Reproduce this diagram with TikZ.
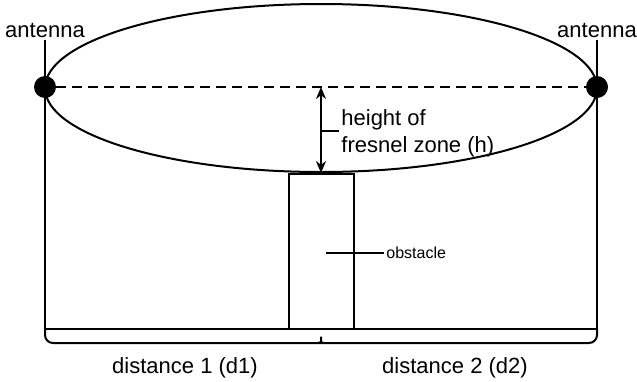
\documentclass[tikz,border=0pt]{standalone}
\usepackage{fontspec}
\setmainfont{Liberation Sans}
\usetikzlibrary{arrows.meta,positioning,shapes.geometric,calc}
\tikzset{
 ln/.style={line width=1pt,draw=black},
 dot/.style={circle,fill=black,minimum size=11pt,inner sep=0pt},
 lbl/.style={font=\fontsize{11}{13.5}\selectfont,inner sep=1pt},
 small/.style={font=\fontsize{8}{9.6}\selectfont,inner sep=1pt},
 arr/.style={{Stealth[length=6pt,width=5pt]}-{Stealth[length=6pt,width=5pt]},line width=1pt},
 dsh/.style={ln,dash pattern=on 5pt off 3pt}
}
\begin{document}
\begin{tikzpicture}[x=0.5pt,y=-0.5pt]
\useasboundingbox (0,0) rectangle (637,381);
% fresnel zone and the two antennas
\node[ellipse,ln,minimum width=276pt,minimum height=84pt,inner sep=0pt] (zone) at (321,88) {};
\node[dot] (ant1) at (45,87) {};
\node[dot] (ant2) at (597,87) {};
\node[lbl,anchor=base] (lab1) at (45,37) {antenna};
\node[lbl,anchor=base] (lab2) at (597,37) {antenna};
\draw[ln] (lab1) -- (ant1);
\draw[ln] (lab2) -- (ant2);
\draw[dsh] (ant1) -- (ant2);
% ground
\coordinate (g1) at (45,329);
\coordinate (g2) at (597,329);
\draw[ln] (ant1) -- (g1) -- (g2) -- (ant2);
% obstacle
\node[draw,line width=1pt,minimum width=32.5pt,minimum height=77.5pt,inner sep=0pt] (obst) at (321.5,251.5) {};
\coordinate (om) at (326,253);
\node[small,anchor=west] (obl) at (384,253) {obstacle};
\draw[ln] (om) -- (obl.west);
% height of the zone
\coordinate (top) at (321,87);
\draw[arr] (top) -- (zone.south);
\coordinate (hm) at (321,131);
\node[lbl,align=left,anchor=west] (hl) at (339,133) {height of\\fresnel zone (h)};
\draw[ln] (hm) -- (hl.west |- hm);
% distance brackets
\draw[ln,rounded corners=4pt] (g1) -- (45,343) -- (316,343)
  .. controls (320,343) and (321,340) .. (321,332)
  .. controls (321,340) and (322,343) .. (326,343) -- (597,343) -- (g2);
\node[lbl,anchor=base] (d1) at (185,373) {distance 1 (d1)};
\node[lbl,anchor=base] (d2) at (455,373) {distance 2 (d2)};
\end{tikzpicture}
\end{document}
